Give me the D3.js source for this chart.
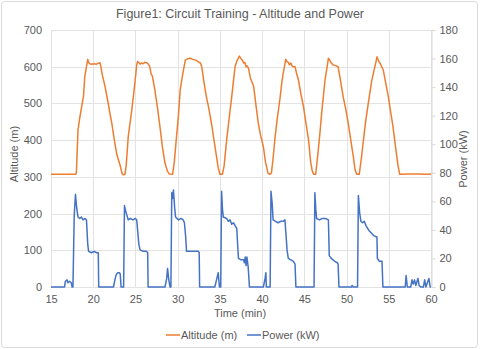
<!DOCTYPE html>
<html>
<head>
<meta charset="utf-8">
<script src="https://cdn.jsdelivr.net/npm/d3@7"></script>
<style>
  html, body { margin: 0; padding: 0; background: #ffffff; }
  svg text { font-family: "Liberation Sans", Arial, sans-serif; fill: #595959; }
</style>
</head>
<body>
<svg id="chart" width="480" height="349"></svg>
<script>
// Altitude trace: time (min) and altitude (m)
const altitudeTime = [15,17.9,18.0,18.2,18.4,18.7,18.85,19.0,19.2,19.35,19.45,19.6,19.8,20.1,20.4,20.65,20.8,20.9,21.1,21.4,21.7,22.0,22.2,22.5,22.8,23.0,23.2,23.4,23.55,23.75,23.9,24.15,24.5,24.75,25.0,25.15,25.25,25.4,25.55,25.7,25.9,26.1,26.3,26.5,26.7,26.85,27.0,27.3,27.6,27.9,28.2,28.5,28.8,29.0,29.4,29.6,29.9,30.1,30.3,30.6,30.9,31.2,31.5,31.8,32.1,32.25,32.5,32.7,32.85,33.1,33.4,33.7,34.0,34.3,34.6,34.8,35.0,35.3,35.5,35.8,36.1,36.4,36.6,36.8,37.0,37.3,37.5,37.7,37.8,37.95,38.1,38.25,38.4,38.6,39.0,39.3,39.55,39.8,40.15,40.4,40.7,40.9,41.1,41.3,41.5,41.8,42.1,42.35,42.5,42.8,42.95,43.1,43.25,43.4,43.6,43.9,44.1,44.3,44.6,44.9,45.2,45.5,45.75,45.95,46.1,46.35,46.65,46.85,47.05,47.3,47.45,47.7,47.85,48.0,48.2,48.4,48.7,49.0,49.3,49.6,49.9,50.2,50.5,50.8,51.0,51.2,51.5,51.75,52.0,52.2,52.4,52.7,53.0,53.3,53.5,53.6,53.8,54.0,54.2,54.35,54.6,54.95,55.2,55.5,55.7,55.9,56.1,56.3,57.5,58.5,59.5,60];
const altitudeValues = [307,307,310,428,460,500,520,573,600,620,612,608,607,608,607,610,611,600,575,546,510,470,446,400,360,345,330,310,306,307,330,410,470,518,570,605,614,612,607,610,608,612,611,608,600,580,575,537,490,437,380,337,315,308,307,340,419,470,537,580,618,622,623,620,618,617,612,610,600,560,518,485,446,400,355,325,307,307,330,400,460,518,560,600,615,629,622,617,610,612,600,602,595,570,546,490,446,415,382,340,310,307,310,350,400,460,510,560,582,620,614,612,605,610,600,600,580,564,525,491,445,400,340,315,307,307,373,420,473,530,564,600,623,618,610,605,603,600,560,518,485,446,400,355,320,307,307,350,400,440,473,520,564,595,615,627,615,608,598,591,560,518,480,437,400,364,330,307,308,308,307,308];

// Power trace: time (min) and power (kW)
const powerTime = [15,16.6,16.7,16.9,17.0,17.2,17.4,17.5,17.6,17.75,17.9,18.05,18.2,18.4,18.6,18.8,19.0,19.2,19.35,19.45,19.8,20.1,20.4,20.6,20.65,22.4,22.6,22.75,22.9,23.1,23.2,23.3,23.6,23.7,23.85,24.0,24.15,24.4,24.7,25.0,25.15,25.4,25.55,25.9,26.3,26.45,26.5,28.5,28.7,28.8,28.95,29.1,29.2,29.3,29.4,29.5,29.65,29.75,30.1,30.4,30.65,30.8,30.95,31.05,31.6,32.1,32.45,32.55,32.6,34.4,34.6,34.8,34.95,35.1,35.2,35.3,35.4,35.8,36.0,36.2,36.4,36.6,36.8,37.0,37.1,37.2,37.5,37.8,37.9,38.0,38.1,38.2,38.35,38.5,40.15,40.35,40.45,40.5,40.95,41.05,41.2,41.3,41.6,41.9,42.2,42.5,42.7,42.85,42.95,43.1,43.4,43.7,43.9,44.0,46.15,46.25,46.35,46.45,46.8,47.1,47.5,47.85,47.95,48.2,48.4,48.6,48.9,49.0,49.1,50.6,50.65,50.8,51.3,51.4,51.55,51.7,51.9,52.1,52.3,52.6,52.9,53.2,53.6,53.65,53.9,54.2,54.3,56.95,57.05,57.2,57.6,57.75,57.9,58.05,58.2,58.45,58.6,58.8,59.1,59.25,59.4,59.75,59.9,60];
const powerValues = [0,0,4,5,3,4,3,0,0,50,65,55,49,48,49,47,48,47,30,25,24,25,24,24,0,0,6,9,10,10,9,0,0,57,53,50,47,48,47,48,47,30,26,25,25,24,0,0,6,13,5,0,0,66,62,68,55,49,47,48,47,45,35,25,25,25,25,24,0,0,5,10,0,0,67,55,49,48,46,47,44,45,43,41,30,20,19,19,17,21,15,21,14,0,0,6,10,0,0,67,58,47,46,45,46,46,47,35,26,20,19,18,16,0,0,66,55,48,47,48,48,47,22,20,19,18,17,16,0,0,1,0,0,64,52,46,45,46,43,40,38,36,35,20,18,18,0,0,8,0,0,5,2,5,1,6,1,0,0,5,0,6,0,0];

// Axis ticks
const timeTicks = [15,20,25,30,35,40,45,50,55,60];
const altitudeTicks = [0,100,200,300,400,500,600,700];
const powerTicks = [0,20,40,60,80,100,120,140,160,180];

const titleText = "Figure1: Circuit Training - Altitude and Power";
const seriesNames = ["Altitude (m)", "Power (kW)"];
const seriesColors = ["#ED7D31", "#4472C4"];

const svg = d3.select("#chart");
const W = 480, H = 349;
const plot = { left: 51, right: 431, top: 30, bottom: 287 };

// Chart frame
svg.append("rect")
  .attr("x", 1.5).attr("y", 1.5)
  .attr("width", W - 4).attr("height", H - 3)
  .attr("rx", 3)
  .attr("fill", "#ffffff")
  .attr("stroke", "#d9d9d9");

const x = d3.scaleLinear().domain([15, 60]).range([plot.left, plot.right]);
const yAlt = d3.scaleLinear().domain([0, 700]).range([plot.bottom, plot.top]);
const yPow = d3.scaleLinear().domain([0, 180]).range([plot.bottom, plot.top]);

// Gridlines
const grid = svg.append("g");
grid.selectAll("line.h").data(altitudeTicks).join("line")
  .attr("x1", plot.left).attr("x2", plot.right)
  .attr("y1", d => Math.round(yAlt(d)) + 0.5).attr("y2", d => Math.round(yAlt(d)) + 0.5)
  .attr("stroke", "#e3e3e3").attr("stroke-width", 1);
grid.selectAll("line.v").data(timeTicks).join("line")
  .attr("y1", plot.top).attr("y2", plot.bottom)
  .attr("x1", d => Math.round(x(d)) + 0.5).attr("x2", d => Math.round(x(d)) + 0.5)
  .attr("stroke", "#e3e3e3").attr("stroke-width", 1);

// Left axis
const leftAxis = svg.append("g")
  .attr("transform", `translate(${plot.left},0)`)
  .call(d3.axisLeft(yAlt).tickValues(altitudeTicks).tickSize(0).tickPadding(9));
leftAxis.select(".domain").remove();
leftAxis.selectAll("text").attr("font-size", 11).style("font-family", "'Liberation Sans', Arial, sans-serif").attr("fill", "#595959");

// Right axis
const rightAxis = svg.append("g")
  .attr("transform", `translate(${plot.right + 0.5},0)`)
  .call(d3.axisRight(yPow).tickValues(powerTicks).tickSize(4).tickPadding(4));
rightAxis.select(".domain").attr("stroke", "#d9d9d9");
rightAxis.selectAll(".tick line").attr("stroke", "#d9d9d9");
rightAxis.selectAll("text").attr("font-size", 11).style("font-family", "'Liberation Sans', Arial, sans-serif").attr("fill", "#595959");

// Bottom axis
const bottomAxis = svg.append("g")
  .attr("transform", `translate(0,${plot.bottom})`)
  .call(d3.axisBottom(x).tickValues(timeTicks).tickSize(0).tickPadding(8));
bottomAxis.select(".domain").remove();
bottomAxis.selectAll("text").attr("font-size", 11).style("font-family", "'Liberation Sans', Arial, sans-serif").attr("fill", "#595959");

// Series
const altitudeData = altitudeTime.map((t, i) => [t, altitudeValues[i]]);
const powerData = powerTime.map((t, i) => [t, powerValues[i]]);

svg.append("path")
  .datum(altitudeData)
  .attr("fill", "none")
  .attr("stroke", seriesColors[0])
  .attr("stroke-width", 1.5)
  .attr("stroke-linejoin", "round")
  .attr("d", d3.line().x(d => x(d[0])).y(d => yAlt(d[1])));

svg.append("path")
  .datum(powerData)
  .attr("fill", "none")
  .attr("stroke", seriesColors[1])
  .attr("stroke-width", 1.5)
  .attr("stroke-linejoin", "round")
  .attr("d", d3.line().x(d => x(d[0])).y(d => yPow(d[1])));

// Title
svg.append("text")
  .attr("x", 240).attr("y", 18)
  .attr("text-anchor", "middle")
  .attr("font-size", 12.5)
  .text(titleText);

// Axis titles
svg.append("text")
  .attr("transform", "translate(18,154) rotate(-90)")
  .attr("text-anchor", "middle")
  .attr("font-size", 11)
  .text("Altitude (m)");
svg.append("text")
  .attr("transform", "translate(467,159) rotate(-90)")
  .attr("text-anchor", "middle")
  .attr("font-size", 11)
  .text("Power (kW)");
svg.append("text")
  .attr("x", 240).attr("y", 317)
  .attr("text-anchor", "middle")
  .attr("font-size", 11)
  .text("Time (min)");

// Legend
const legendX = [166, 247];
const legend = svg.append("g");
seriesNames.forEach((name, i) => {
  legend.append("line")
    .attr("x1", legendX[i]).attr("x2", legendX[i] + 14)
    .attr("y1", 335).attr("y2", 335)
    .attr("stroke", seriesColors[i]).attr("stroke-width", 1.5);
  legend.append("text")
    .attr("x", legendX[i] + 15).attr("y", 339)
    .attr("font-size", 11)
    .text(name);
});
</script>
</body>
</html>
